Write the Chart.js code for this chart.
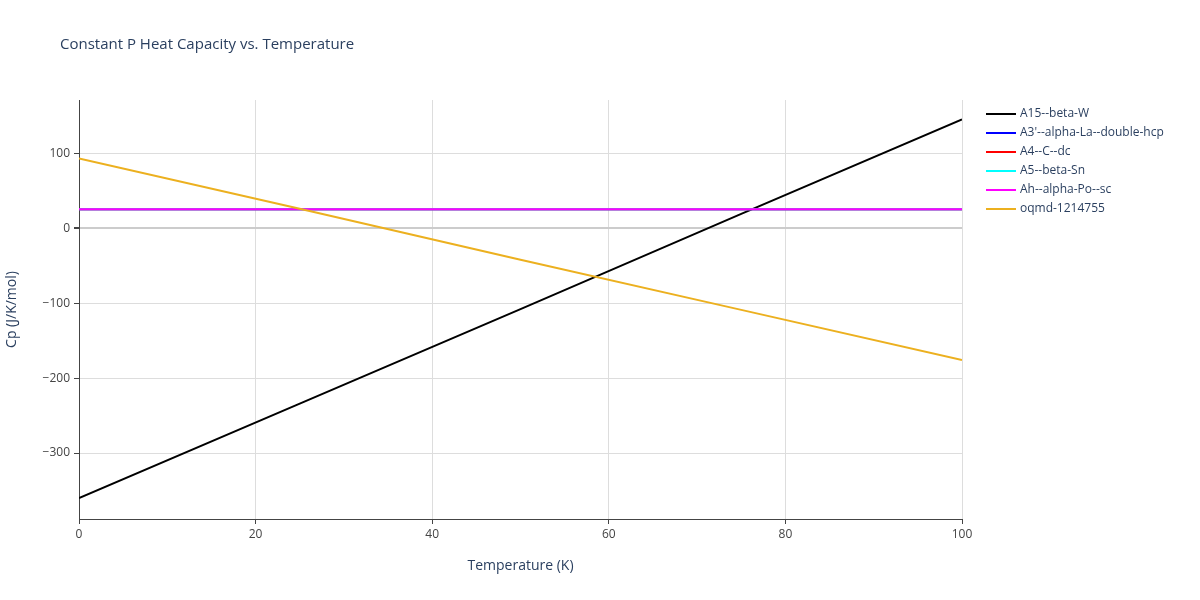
<!DOCTYPE html>
<html><head><meta charset="utf-8">
<script src="https://cdn.jsdelivr.net/npm/chart.js@4"></script>
<style>body{margin:0;background:#fff}#w{width:1200px;height:600px}</style>
</head><body><div id="w"><canvas id="c"></canvas></div>
<script>
const temps = [0, 25, 50, 75, 100];
const seriesNames = ["A15--beta-W","A3'--alpha-La--double-hcp","A4--C--dc","A5--beta-Sn","Ah--alpha-Po--sc","oqmd-1214755"];
const colors = ["#000000","#0000ff","#ff0000","#00ffff","#ff00ff","#ecb01f"];
const a15 = [-360, -234, -108, 19, 145];
const a3 = [25.3, 25.3, 25.3, 25.3, 25.3];
const a4 = [25.3, 25.3, 25.3, 25.3, 25.3];
const a5 = [25.3, 25.3, 25.3, 25.3, 25.3];
const ah = [25.3, 25.3, 25.3, 25.3, 25.3];
const oqmd = [93, 26, -42, -109, -176];
const xTicks = [0, 20, 40, 60, 80, 100];
const yTicks = [-300, -200, -100, 0, 100];
const values = [a15, a3, a4, a5, ah, oqmd];
const font = "'Open Sans', sans-serif";
const txt = "#2a3f5f";

const datasets = values.map((v, i) => ({
  label: seriesNames[i],
  data: v.map((y, j) => ({x: temps[j], y})),
  borderColor: colors[i], backgroundColor: colors[i],
  borderWidth: 2, pointRadius: 0, tension: 0
}));
datasets.forEach((d,i)=>d.order = 6-i);

const deco = {
  id: 'deco',
  afterDraw(ch) {
    const c = ch.ctx;
    c.save();
    c.fillStyle = txt;
    c.font = "15px " + font;
    c.textBaseline = 'middle';
    c.fillText("Constant P Heat Capacity vs. Temperature", 60, 45);
    c.font = "12px " + font;
    seriesNames.forEach((n, i) => {
      const y = 114 + i * 19;
      c.strokeStyle = colors[i]; c.lineWidth = 2;
      c.beginPath(); c.moveTo(986, y); c.lineTo(1016, y); c.stroke();
      c.fillStyle = txt;
      c.fillText(n, 1020, y);
    });
    c.restore();
  }
};

new Chart(document.getElementById('c'), {
  type: 'line',
  data: { datasets },
  options: {
    responsive: true, maintainAspectRatio: false, animation: false,
    layout: { padding: { left: 0, right: 238, top: 100, bottom: 0 } },
    plugins: { legend: { display: false }, title: { display: false }, tooltip: { enabled: false } },
    scales: {
      x: {
        type: 'linear', min: 0, max: 100,
        afterFit(s) { s.height = 81; },
        afterBuildTicks(s) { s.ticks = xTicks.map(v => ({value: v})); },
        grid: { color: '#dddddd', drawTicks: true, tickLength: 5, tickColor: '#444' },
        border: { display: true, color: '#444' },
        ticks: { color: '#444', font: { family: font, size: 12 }, padding: 3, maxRotation: 0 },
        title: { display: true, text: 'Temperature (K)', color: txt, font: { family: font, size: 14 }, padding: { top: 10, bottom: 26 } }
      },
      y: {
        type: 'linear', min: -388, max: 171,
        afterFit(s) { s.width = 79; },
        afterBuildTicks(s) { s.ticks = yTicks.map(v => ({value: v})); },
        grid: { color: c => c.tick && c.tick.value === 0 ? '#cccccc' : '#dddddd', lineWidth: c => c.tick && c.tick.value === 0 ? 2 : 1, tickLength: 5, tickColor: '#444' },
        border: { display: true, color: '#444' },
        ticks: { color: '#444', font: { family: font, size: 12 }, padding: 4,
                 callback: v => v < 0 ? '\u2212' + Math.abs(v) : String(v) },
        title: { display: true, text: 'Cp (J/K/mol)', color: txt, font: { family: font, size: 14 }, padding: { bottom: 8 } }
      }
    }
  },
  plugins: [deco]
});
</script></body></html>
